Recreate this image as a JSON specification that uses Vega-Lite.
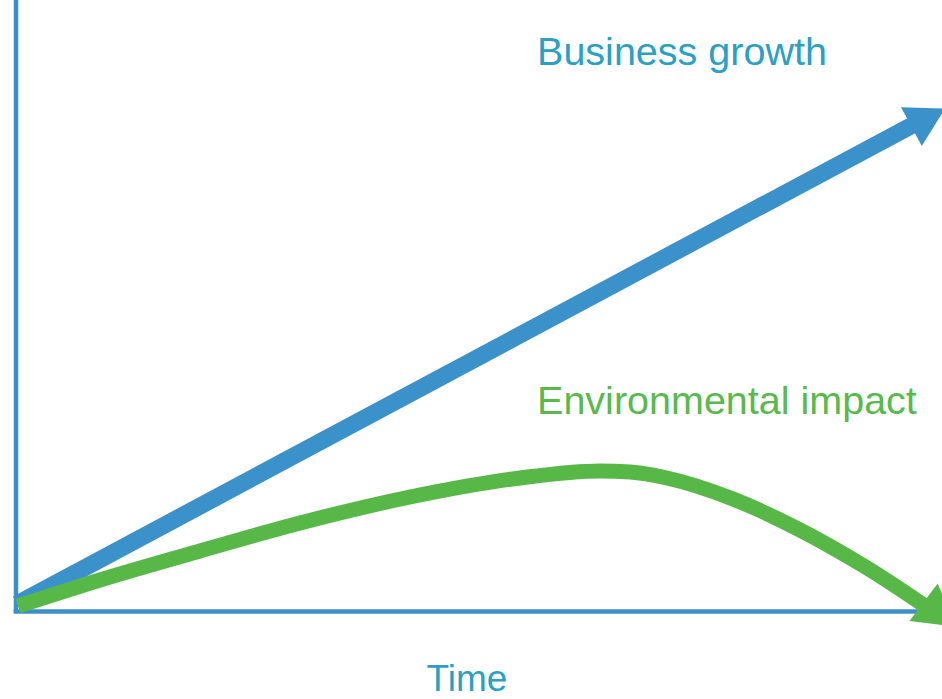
{
  "$schema": "https://vega.github.io/schema/vega-lite/v6.json",
  "width": 942,
  "height": 699,
  "autosize": {"type": "none"},
  "padding": 0,
  "background": "white",
  "config": {"view": {"stroke": null}},
  "layer": [
    {
      "data": {"values": [{"t": 0, "v": -0.35, "v2": 103}]},
      "mark": {"type": "rule", "color": "#3d8fcc", "strokeWidth": 4.5},
      "encoding": {
        "x": {"field": "t", "type": "quantitative", "axis": null, "scale": {"domain": [0, 100], "range": [16, 940]}},
        "y": {"field": "v", "type": "quantitative", "axis": null, "scale": {"domain": [0, 100], "range": [611, 11]}},
        "y2": {"field": "v2"}
      }
    },
    {
      "data": {"values": [{"t": -0.25, "t2": 104, "v": -0.08}]},
      "mark": {"type": "rule", "color": "#3d8fcc", "strokeWidth": 4.5},
      "encoding": {
        "x": {"field": "t", "type": "quantitative", "axis": null, "scale": {"domain": [0, 100], "range": [16, 940]}},
        "x2": {"field": "t2"},
        "y": {"field": "v", "type": "quantitative", "axis": null, "scale": {"domain": [0, 100], "range": [611, 11]}}
      }
    },
    {
      "data": {"values": [
        {"t": 0.11, "v": 1.17},
        {"t": 97.6, "v": 81.47}
      ]},
      "mark": {"type": "line", "color": "#3b91c9", "strokeWidth": 17, "strokeCap": "butt"},
      "encoding": {
        "x": {"field": "t", "type": "quantitative", "axis": null, "scale": {"domain": [0, 100], "range": [16, 940]}},
        "y": {"field": "v", "type": "quantitative", "axis": null, "scale": {"domain": [0, 100], "range": [611, 11]}}
      }
    },
    {
      "data": {"values": [{"t": 98.44, "v": 82.0}]},
      "mark": {"type": "point", "filled": true, "opacity": 1, "color": "#3b91c9", "shape": "M0,-1L1,0.73L-1,0.73Z", "size": 1936, "angle": 61.9},
      "encoding": {
        "x": {"field": "t", "type": "quantitative", "axis": null, "scale": {"domain": [0, 100], "range": [16, 940]}},
        "y": {"field": "v", "type": "quantitative", "axis": null, "scale": {"domain": [0, 100], "range": [611, 11]}}
      }
    },
    {
      "data": {"values": [
        {"t": 0.22, "v": 0.83},
        {"t": 9.09, "v": 5.17},
        {"t": 19.91, "v": 10.0},
        {"t": 30.74, "v": 14.67},
        {"t": 42.64, "v": 19.0},
        {"t": 54.55, "v": 22.17},
        {"t": 63.2, "v": 23.33},
        {"t": 66.45, "v": 23.17},
        {"t": 70.45, "v": 22.17},
        {"t": 77.6, "v": 18.67},
        {"t": 84.85, "v": 13.5},
        {"t": 92.1, "v": 7.17},
        {"t": 98.7, "v": 0.5}
      ]},
      "mark": {"type": "line", "color": "#57b848", "strokeWidth": 15, "strokeCap": "butt", "interpolate": "monotone"},
      "encoding": {
        "x": {"field": "t", "type": "quantitative", "axis": null, "scale": {"domain": [0, 100], "range": [16, 940]}},
        "y": {"field": "v", "type": "quantitative", "axis": null, "scale": {"domain": [0, 100], "range": [611, 11]}}
      }
    },
    {
      "data": {"values": [{"t": 99.7, "v": -0.25}]},
      "mark": {"type": "point", "filled": true, "opacity": 1, "color": "#57b848", "shape": "M0,-1L1,0.73L-1,0.73Z", "size": 2200, "angle": 127},
      "encoding": {
        "x": {"field": "t", "type": "quantitative", "axis": null, "scale": {"domain": [0, 100], "range": [16, 940]}},
        "y": {"field": "v", "type": "quantitative", "axis": null, "scale": {"domain": [0, 100], "range": [611, 11]}}
      }
    },
    {
      "data": {"values": [
        {"t": 56.39, "v": 91.0, "label": "Business growth", "kind": "b"},
        {"t": 56.39, "v": 32.83, "label": "Environmental impact", "kind": "e"}
      ]},
      "mark": {"type": "text", "align": "left", "baseline": "alphabetic", "font": "Liberation Sans", "fontSize": 39.5},
      "encoding": {
        "x": {"field": "t", "type": "quantitative", "axis": null, "scale": {"domain": [0, 100], "range": [16, 940]}},
        "y": {"field": "v", "type": "quantitative", "axis": null, "scale": {"domain": [0, 100], "range": [611, 11]}},
        "text": {"field": "label"},
        "color": {"field": "kind", "type": "nominal", "legend": null, "scale": {"domain": ["b", "e"], "range": ["#2b9fc4", "#58b94c"]}}
      }
    },
    {
      "data": {"values": [{"t": 48.8, "v": -13.4, "label": "Time"}]},
      "mark": {"type": "text", "align": "center", "baseline": "alphabetic", "font": "Liberation Sans", "fontSize": 37, "color": "#2b9fc4"},
      "encoding": {
        "x": {"field": "t", "type": "quantitative", "axis": null, "scale": {"domain": [0, 100], "range": [16, 940]}},
        "y": {"field": "v", "type": "quantitative", "axis": null, "scale": {"domain": [0, 100], "range": [611, 11]}},
        "text": {"field": "label"}
      }
    }
  ]
}
